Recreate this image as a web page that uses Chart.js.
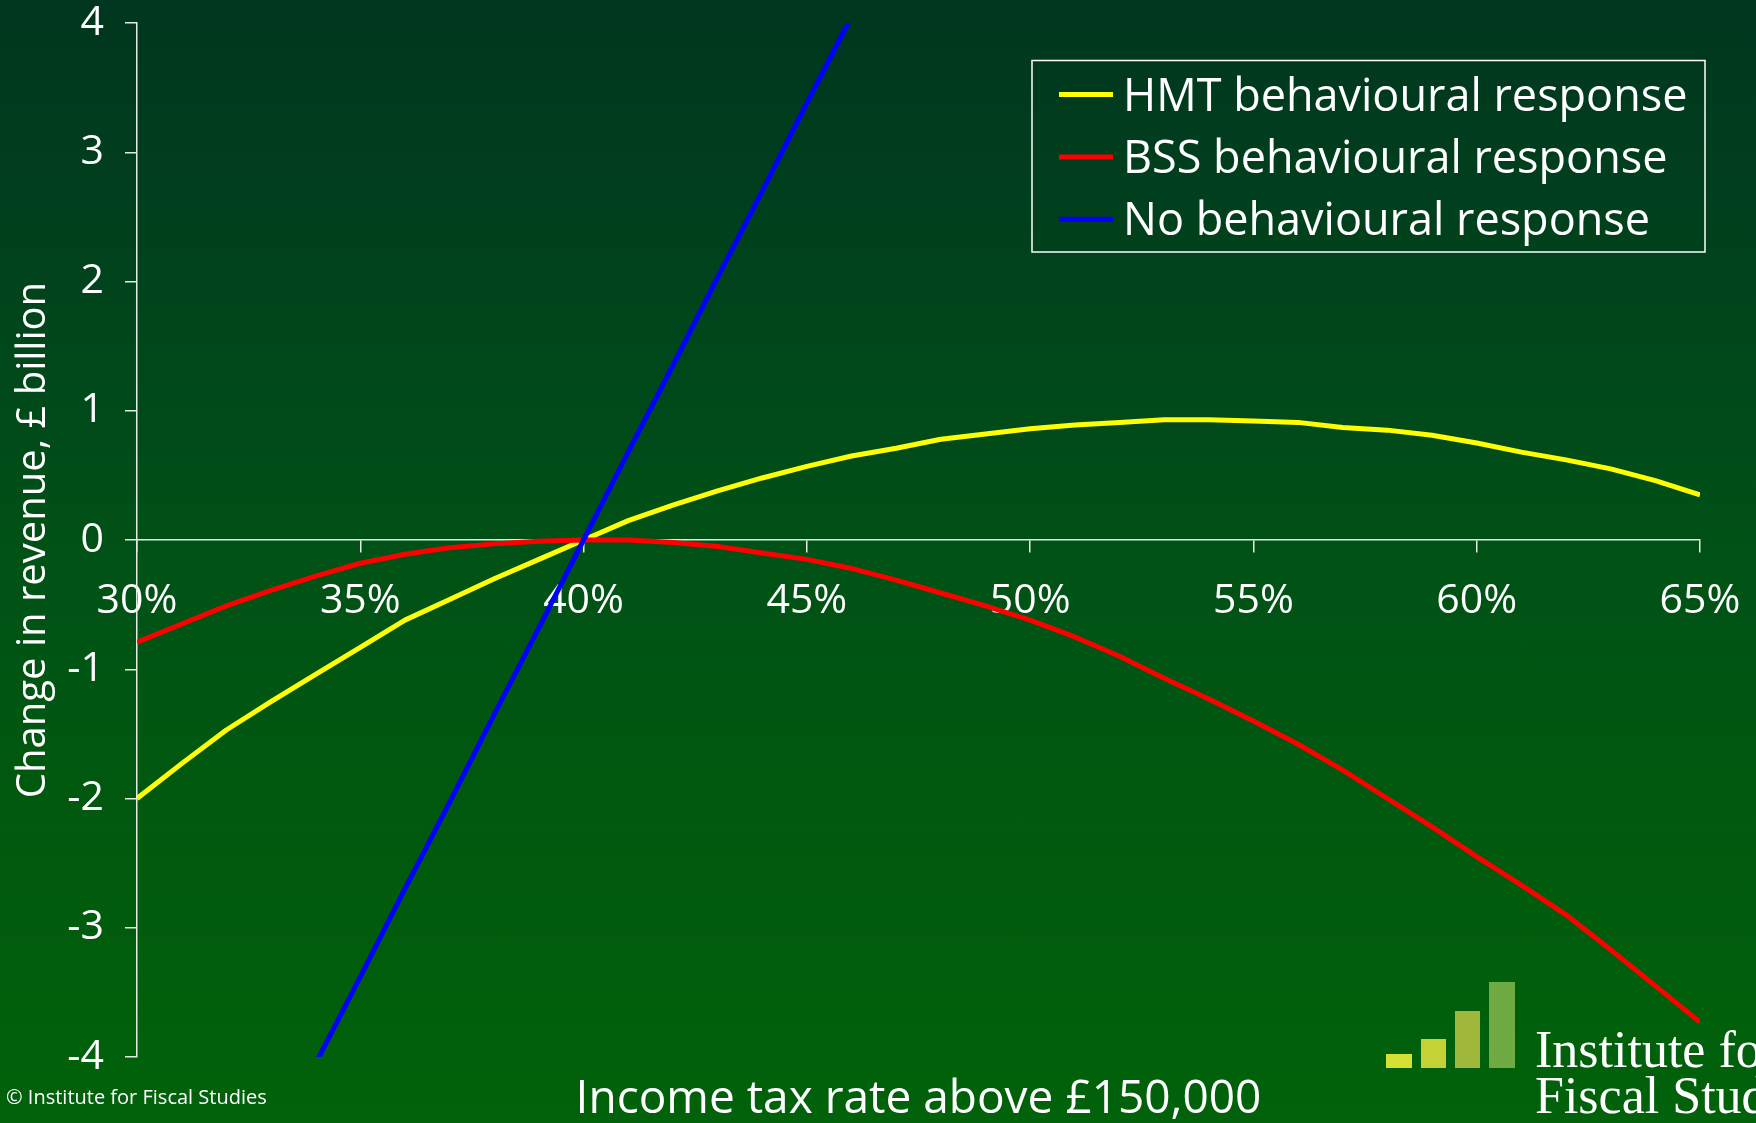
<!DOCTYPE html>
<html>
<head>
<meta charset="utf-8">
<script src="https://cdn.jsdelivr.net/npm/chart.js@4.4.1/dist/chart.umd.min.js"></script>
<style>
  html, body { margin: 0; padding: 0; }
  body {
    width: 1756px; height: 1123px; overflow: hidden; position: relative;
    background: linear-gradient(to bottom, #00361f 0%, #00451c 28%, #005216 50%, #005a0e 75%, #00620a 100%);
    font-family: 'Open Sans', sans-serif; color: #fff;
  }
  #wrap { position: absolute; left: 0; top: 0; width: 1756px; height: 1123px; }
  .txt { position: absolute; white-space: nowrap; line-height: 1; }
  #xtitle { left: 918.5px; top: 1072px; font-size: 46px; transform: translateX(-50%); }
  #copy { left: 6px; top: 1087px; font-size: 20px; }
  .bar { position: absolute; }
  .logo { font-family: 'Liberation Serif', serif; font-size: 52px; left: 1535px; }
</style>
</head>
<body>
<div id="wrap"><canvas id="revenueChart"></canvas></div>
<div class="txt" id="xtitle">Income tax rate above £150,000</div>
<div class="txt" id="copy">© Institute for Fiscal Studies</div>
<div class="bar" style="left:1386px;top:1054px;width:26px;height:14px;background:#d4e133"></div>
<div class="bar" style="left:1421px;top:1039px;width:25px;height:29px;background:#c5d236"></div>
<div class="bar" style="left:1455px;top:1011px;width:25px;height:57px;background:#9fb83c"></div>
<div class="bar" style="left:1489px;top:982px;width:26px;height:86px;background:#6fab42"></div>
<div class="txt logo" style="top:1023.5px">Institute for</div>
<div class="txt logo" style="top:1069.5px">Fiscal Studies</div>
<script>
const rates = [30, 31, 32, 33, 34, 35, 36, 37, 38, 39, 40, 41, 42, 43, 44, 45, 46, 47,
               48, 49, 50, 51, 52, 53, 54, 55, 56, 57, 58, 59, 60, 61, 62, 63, 64, 65];

const hmtResponse = [-2.00, -1.73, -1.47, -1.25, -1.04, -0.83, -0.62, -0.46, -0.30, -0.15,
                     0.00, 0.15, 0.27, 0.38, 0.48, 0.57, 0.65, 0.71, 0.78, 0.82, 0.86, 0.89,
                     0.91, 0.93, 0.93, 0.92, 0.91, 0.87, 0.85, 0.81, 0.75, 0.68, 0.62, 0.55,
                     0.46, 0.35];

const bssResponse = [-0.79, -0.65, -0.51, -0.39, -0.28, -0.18, -0.11, -0.06, -0.03, -0.01,
                     0.00, 0.00, -0.02, -0.05, -0.10, -0.15, -0.22, -0.31, -0.41, -0.51,
                     -0.62, -0.75, -0.90, -1.07, -1.23, -1.40, -1.58, -1.78, -2.00, -2.22,
                     -2.45, -2.67, -2.90, -3.17, -3.45, -3.73];

// only visible between 34% and 46%, off the scale elsewhere
const noResponse = [null, null, null, null, -4.05, -3.38, -2.70, -2.03, -1.35, -0.68,
                    0.00, 0.68, 1.35, 2.03, 2.70, 3.38, 4.05, null, null, null, null, null,
                    null, null, null, null, null, null, null, null, null, null, null, null,
                    null, null];

const seriesNames = ['HMT behavioural response', 'BSS behavioural response', 'No behavioural response'];
const seriesColors = ['#ffff00', '#ff0000', '#0000ff'];

const yTicks = [-4, -3, -2, -1, 0, 1, 2, 3, 4];

const fontFamily = "'Open Sans', sans-serif";
const axisColor = '#e4ebe4';

const toPoints = values => rates.map((r, i) => ({ x: r, y: values[i] }));

// legend with a frame, drawn inside the plot like the original
const boxLegend = {
    id: 'boxLegend',
    afterDraw(chart) {
        const ctx = chart.ctx;
        ctx.save();
        ctx.strokeStyle = '#ffffff';
        ctx.lineWidth = 1.5;
        ctx.strokeRect(1032, 60.5, 673, 191.5);
        ctx.font = "45px 'Open Sans'";
        ctx.textBaseline = 'alphabetic';
        chart.data.datasets.forEach((ds, i) => {
            const y = 94.5 + i * 62.4;
            ctx.strokeStyle = ds.borderColor;
            ctx.lineWidth = 5;
            ctx.beginPath();
            ctx.moveTo(1059, y);
            ctx.lineTo(1113, y);
            ctx.stroke();
            ctx.fillStyle = '#ffffff';
            ctx.fillText(ds.label, 1123, y + 16);
        });
        ctx.restore();
    }
};

const ctx = document.getElementById('revenueChart').getContext('2d');
const revenueChart = new Chart(ctx, {
    type: 'line',
    data: {
        datasets: [
            { label: seriesNames[0], data: toPoints(hmtResponse), borderColor: seriesColors[0], order: 3 },
            { label: seriesNames[1], data: toPoints(bssResponse), borderColor: seriesColors[1], order: 2 },
            { label: seriesNames[2], data: toPoints(noResponse), borderColor: seriesColors[2], order: 1 }
        ]
    },
    options: {
        responsive: true,
        maintainAspectRatio: false,
        animation: false,
        events: [],
        layout: {
            autoPadding: false,
            padding: { top: 23, right: 56, bottom: 66, left: 0 }
        },
        elements: {
            line: { borderWidth: 5, tension: 0, fill: false, borderJoinStyle: 'round' },
            point: { radius: 0 }
        },
        datasets: {
            line: { clip: 0, spanGaps: false }
        },
        scales: {
            x: {
                type: 'linear',
                min: 30,
                max: 65,
                position: { y: 0 },
                afterFit: s => {
                    s.height = 0;
                    s.paddingTop = 0;
                    s.paddingBottom = 0;
                    s.paddingLeft = 0;
                    s.paddingRight = 0;
                },
                border: { display: true, color: axisColor, width: 1.5 },
                grid: { display: true, drawOnChartArea: false, tickLength: 12, color: axisColor, lineWidth: 1.5 },
                ticks: {
                    stepSize: 5,
                    autoSkip: false,
                    maxRotation: 0,
                    padding: 25,
                    color: '#ffffff',
                    font: { family: fontFamily, size: 41 },
                    callback: v => v + '%'
                }
            },
            y: {
                min: -4,
                max: 4,
                afterFit: s => {
                    s.width = 137;
                    s.paddingTop = 0;
                    s.paddingBottom = 0;
                },
                afterBuildTicks: s => { s.ticks = yTicks.map(v => ({ value: v })); },
                border: { display: true, color: axisColor, width: 1.5 },
                grid: { display: true, drawOnChartArea: false, tickLength: 12, color: axisColor, lineWidth: 1.5 },
                ticks: {
                    padding: 21,
                    color: '#ffffff',
                    font: { family: fontFamily, size: 41 }
                },
                title: {
                    display: true,
                    text: 'Change in revenue, £ billion',
                    color: '#ffffff',
                    font: { family: fontFamily, size: 40 },
                    padding: { top: 10, bottom: 0 }
                }
            }
        },
        plugins: {
            legend: { display: false },
            tooltip: { enabled: false }
        }
    },
    plugins: [boxLegend]
});
</script>
</body>
</html>
